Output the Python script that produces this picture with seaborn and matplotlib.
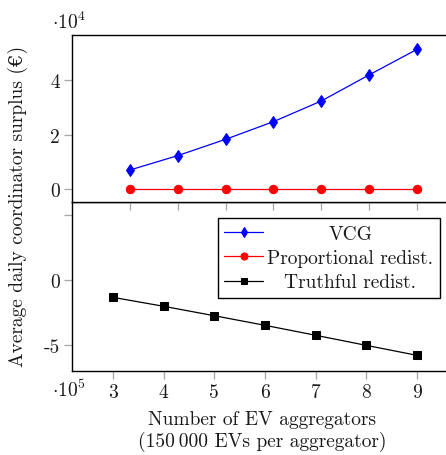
import matplotlib
matplotlib.use("Agg")
import matplotlib.pyplot as plt
import seaborn as sns
import pandas as pd

# Data
aggregators = [3, 4, 5, 6, 7, 8, 9]
vcg = [0.70, 1.23, 1.83, 2.48, 3.24, 4.20, 5.14]            # x 1e4 EUR
proportional = [0.0, 0.0, 0.0, 0.0, 0.0, 0.0, 0.0]           # x 1e4 EUR
truthful = [-1.34, -2.03, -2.76, -3.50, -4.27, -5.05, -5.82]  # x 1e5 EUR

sns.set_theme(style="white")
plt.rcParams["font.family"] = ["cmr10", "DejaVu Serif"]
plt.rcParams["mathtext.fontset"] = "cm"
plt.rcParams["axes.unicode_minus"] = False
FS = 14
TXT = "#1a1a1a"

W, H = 446, 456
fig = plt.figure(figsize=(W / 100, H / 100), dpi=100)

def frac_x(px):
    return px / W

def frac_y(py):
    return 1 - py / H

# Bottom panel (Truthful redistribution, in 1e5)
ax_b = fig.add_axes([frac_x(72), frac_y(372), 1.01 - frac_x(72), frac_y(203) - frac_y(372)])
# Top panel (VCG and proportional, in 1e4), drawn above the bottom one
ax_t = fig.add_axes([frac_x(72), frac_y(203), 1.01 - frac_x(72), frac_y(36) - frac_y(203)])
ax_t.set_zorder(3)
ax_t.set_facecolor("white")

df_top = pd.DataFrame({"n": aggregators, "vcg": vcg, "prop": proportional})
df_bot = pd.DataFrame({"n": aggregators, "truth": truthful})

sns.lineplot(data=df_top, x="n", y="vcg", ax=ax_t, color="blue", marker="d",
             markersize=6, markeredgecolor="blue", linewidth=0.9, label="VCG", legend=False)
sns.lineplot(data=df_top, x="n", y="prop", ax=ax_t, color="red", marker="o",
             markersize=6, markeredgecolor="red", linewidth=0.9, label="Proportional redist.", legend=False)
sns.lineplot(data=df_bot, x="n", y="truth", ax=ax_b, color="black", marker="s",
             markersize=5.8, markeredgecolor="black", linewidth=0.9, label="Truthful redist.", legend=False)

ax_t.set_xlim(1.787, 9.70)
ax_t.set_ylim(-0.478, 5.668)
ax_b.set_xlim(2.191, 9.66)
ax_b.set_ylim(-7.03, 6.03)

tick_grey = "#a6a6a6"
for ax in (ax_t, ax_b):
    ax.set_xlabel("")
    ax.set_ylabel("")
    for s in ax.spines.values():
        s.set_color("black")
        s.set_linewidth(1.0)
    ax.tick_params(axis="both", which="both", direction="out", length=5.5, width=0.9,
                   color=tick_grey, labelsize=FS, labelcolor=TXT, pad=3,
                   left=True, bottom=True)
    ax.grid(False)

ax_t.set_xticks(aggregators)
ax_t.set_xticklabels([])
ax_t.set_yticks([0, 2, 4])
ax_t.set_yticklabels(["0", "2", "4"])

ax_b.set_xticks(aggregators)
ax_b.set_xticklabels([str(a) for a in aggregators])
ax_b.set_yticks([-5, 0, 5])
ax_b.set_yticklabels(["-5", "0", ""])

# Scale markers
fig.text(frac_x(69), frac_y(22), r"$\cdot 10^4$", ha="center", va="center", fontsize=FS, color=TXT)
fig.text(frac_x(69), frac_y(390), r"$\cdot 10^5$", ha="center", va="center", fontsize=FS, color=TXT)

# Axis titles
fig.text(frac_x(18), frac_y(206), "Average daily coordinator surplus (€)", rotation=90,
         ha="center", va="center", fontsize=FS, color=TXT)
fig.text(frac_x(262), frac_y(420), "Number of EV aggregators", ha="center", va="center",
         fontsize=FS, color=TXT)
fig.text(frac_x(262), frac_y(442), "(150\u2009000 EVs per aggregator)", ha="center", va="center",
         fontsize=FS, color=TXT)

# Legend with all three series
handles = ax_t.get_lines()[:2] + ax_b.get_lines()[:1]
labels = ["VCG", "Proportional redist.", "Truthful redist."]
leg = ax_b.legend(handles, labels, loc="upper right",
                  bbox_to_anchor=(frac_x(440), frac_y(219)), bbox_transform=fig.transFigure,
                  fontsize=FS, frameon=True, fancybox=False, edgecolor="black",
                  framealpha=1, borderaxespad=0, handlelength=2.0, handletextpad=0.2,
                  labelspacing=0.33, borderpad=0.35, markerscale=0.85)
leg.get_frame().set_linewidth(1.0)
leg.set_zorder(10)
for t in leg.get_texts():
    t.set_color(TXT)

# Center the legend entries within the text column
fig.canvas.draw()
texts = leg.get_texts()
ext0 = [t.get_window_extent() for t in texts]
wmax = max(e.width for e in ext0)
targets = [(wmax - e.width) / 2 for e in ext0]
probe = 10.0
for t in texts:
    t.set_x(probe)
fig.canvas.draw()
scale = (texts[0].get_window_extent().x0 - ext0[0].x0) / probe
for t, d in zip(texts, targets):
    t.set_x(d / scale if scale else d)

fig.savefig("out.png", dpi=100)
